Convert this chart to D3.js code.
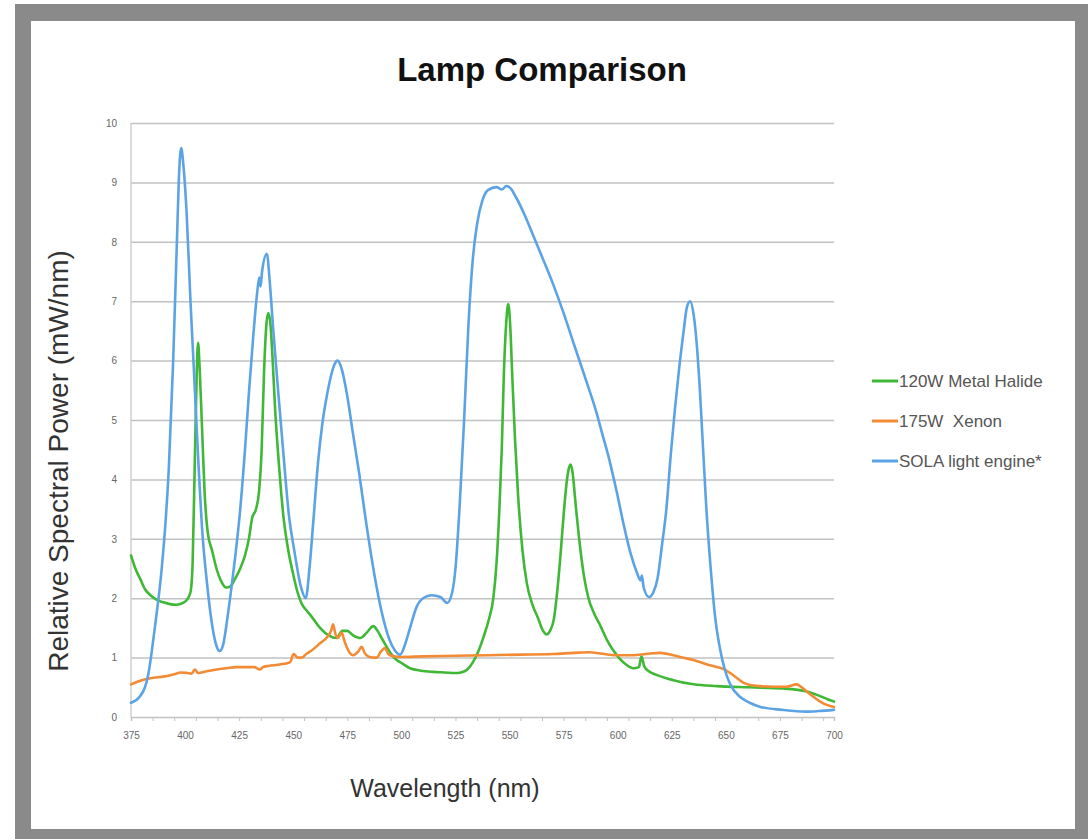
<!DOCTYPE html>
<html>
<head>
<meta charset="utf-8">
<script src="https://cdn.jsdelivr.net/npm/d3@7"></script>
<style>
  html, body { margin: 0; padding: 0; background: #ffffff; }
  svg { display: block; font-family: "Liberation Sans", Arial, Helvetica, sans-serif; }
</style>
</head>
<body>
<svg id="chart" width="1088" height="839"></svg>
<script>
// Wavelength (nm) and relative spectral power (mW/nm) for each lamp
const metalHalideWl  = [375,377,379.2,381.5,384,387,390,393,396,399,401,402.5,403.5,404.6,405.4,406,406.7,407.7,409,410.5,412.5,414.5,416.5,419,421,423,425.5,427.7,429.5,431,432.8,434.2,435.4,436.5,437.7,438.5,439.5,440.5,441.6,443.5,445.4,447.5,450,452,454,456,458.5,462.4,466.5,470,472.7,475,477.5,481,484,487,489,491,493.2,495.5,497.8,500.5,504,509,514.6,520,525,527.5,530.5,533,535.5,538,540.5,542.5,544,545.3,546.4,547.4,548.4,549.4,550.3,551.2,552.5,554,556,558,560.5,563,565.5,567.2,568.7,570.5,572,573.5,575,576.5,577.5,578.3,579.2,580.5,582.5,584.5,586.5,589,591.8,595,598,601,604,607.2,609.8,611,612.2,614,618,625.7,635,645.8,661,676.6,687.4,693,697,700];
const metalHalideVal = [2.72,2.5,2.33,2.15,2.05,1.97,1.93,1.9,1.89,1.92,1.98,2.1,2.6,4.5,5.8,6.3,5.9,5.0,3.8,3.1,2.8,2.5,2.3,2.18,2.2,2.32,2.5,2.72,3.0,3.35,3.5,3.8,4.5,5.8,6.65,6.8,6.6,6.0,5.2,4.2,3.4,2.85,2.4,2.1,1.9,1.8,1.69,1.5,1.37,1.33,1.45,1.45,1.38,1.33,1.42,1.53,1.45,1.32,1.18,1.05,0.96,0.9,0.82,0.78,0.76,0.75,0.74,0.75,0.8,0.92,1.1,1.35,1.65,2.0,2.6,3.5,4.5,5.8,6.6,6.95,6.6,5.8,4.7,3.7,2.8,2.25,1.9,1.68,1.45,1.39,1.45,1.65,2.1,2.7,3.4,3.98,4.2,4.25,4.1,3.6,2.9,2.35,2.0,1.75,1.55,1.3,1.12,0.98,0.88,0.82,0.84,1.02,0.86,0.78,0.71,0.62,0.55,0.52,0.5,0.48,0.43,0.36,0.3,0.26];

const xenonWl  = [375,380,385.3,390,395,398,401,403,404.5,406,410,414.6,419,423.9,428,432,434.6,436,438.5,443,448.5,450.2,452,453.9,456,458.5,462.4,466,467.5,468.4,469.5,470.7,472.4,473.5,474.7,477.6,480,481.6,483,484.6,487,488.6,490.5,492.4,494,495.5,499.4,510,525,540,555,570,580,587,592,599.5,607,613,619.6,625.7,630,635,642.7,648.8,652,655,658,661.2,666,672,678,682.8,685,687.4,690.5,693.6,697,700];
const xenonVal = [0.55,0.62,0.66,0.68,0.72,0.75,0.74,0.73,0.8,0.74,0.77,0.8,0.82,0.84,0.84,0.84,0.8,0.84,0.86,0.88,0.92,1.06,1.0,1.0,1.06,1.12,1.24,1.36,1.45,1.56,1.4,1.33,1.42,1.3,1.18,1.04,1.1,1.18,1.08,1.02,1.0,1.0,1.1,1.16,1.06,1.03,1.01,1.02,1.03,1.04,1.05,1.06,1.08,1.09,1.07,1.04,1.04,1.06,1.08,1.04,1.0,0.96,0.87,0.81,0.74,0.66,0.58,0.54,0.52,0.51,0.51,0.55,0.5,0.43,0.34,0.26,0.2,0.17];

const solaWl  = [375,379,383,386,389.2,391,392.5,394.5,396.3,397.3,398.2,399.2,400.7,402.5,404,406,408,410,412.5,414.5,416,417.5,419.5,421.5,423.5,425.5,427.7,429.6,431.5,433.5,434.3,434.9,435.6,437.8,439.2,440.8,443,445.3,448,450.5,453.5,455.8,457.5,459.3,461.5,463.5,465.5,467.5,469,470.5,472.5,475,477.5,480.5,484,487.5,491,494.5,497,499.4,501.5,504,507,510,514,518,521.2,523.5,525,527,529,531,533,535,537.5,540,544,546.5,548.5,550.5,553,557,561,565,570,575,580,586,590,593,596,599.5,603,606,609,610.5,611.2,612,614.5,616.5,618.5,620.5,622.5,624.5,626.5,628.5,630.5,632,633.5,635,636.5,638,639.5,641,643,645,647.3,649.5,652,656.5,661,666,676,687,693,700];
const solaVal = [0.24,0.34,0.72,1.5,2.5,3.3,4.2,6.0,8.1,9.2,9.58,9.3,8.5,7.0,5.9,4.4,3.1,2.3,1.55,1.2,1.11,1.2,1.65,2.2,2.8,3.5,4.5,5.5,6.4,7.2,7.4,7.25,7.5,7.8,7.3,6.5,5.5,4.5,3.4,2.8,2.2,2.0,2.5,3.3,4.3,4.95,5.4,5.75,5.93,6.0,5.85,5.4,4.8,4.1,3.2,2.4,1.75,1.3,1.12,1.05,1.2,1.5,1.85,2.0,2.05,2.02,1.92,2.1,2.5,3.6,5.0,6.6,7.7,8.3,8.7,8.87,8.92,8.88,8.94,8.9,8.75,8.45,8.1,7.75,7.3,6.8,6.25,5.6,5.15,4.75,4.35,3.8,3.2,2.75,2.42,2.3,2.38,2.18,2.02,2.1,2.35,2.9,3.5,4.4,5.2,5.9,6.5,6.9,7.0,6.8,6.3,5.5,4.5,3.5,2.5,1.7,1.15,0.8,0.55,0.34,0.24,0.17,0.12,0.09,0.1,0.12];

const seriesNames  = ["120W Metal Halide", "175W  Xenon", "SOLA light engine*"];
const seriesColors = ["#3fb836", "#f28b34", "#5ca3e6"];

const xTickValues = [375,400,425,450,475,500,525,550,575,600,625,650,675,700];
const yTickValues = [0,1,2,3,4,5,6,7,8,9,10];

const series = [
  { name: seriesNames[0], color: seriesColors[0], points: metalHalideWl.map((w, i) => [w, metalHalideVal[i]]) },
  { name: seriesNames[1], color: seriesColors[1], points: xenonWl.map((w, i) => [w, xenonVal[i]]) },
  { name: seriesNames[2], color: seriesColors[2], points: solaWl.map((w, i) => [w, solaVal[i]]) }
];

const svg = d3.select("#chart");

// slide frame
svg.append("rect").attr("x", 15).attr("y", 4).attr("width", 1073).attr("height", 835).attr("fill", "#8a8a8a");
svg.append("rect").attr("x", 31).attr("y", 21).attr("width", 1044).attr("height", 808).attr("fill", "#ffffff");

const plot = { left: 131, right: 834, top: 123, bottom: 717 };

const x = d3.scaleLinear().domain([375, 700]).range([plot.left, plot.right]);
const y = d3.scaleLinear().domain([0, 10]).range([plot.bottom, plot.top]);

// horizontal gridlines
svg.append("g")
  .attr("transform", `translate(${plot.left},0)`)
  .call(d3.axisLeft(y).tickValues(yTickValues.slice(1)).tickSize(-(plot.right - plot.left)).tickFormat(""))
  .call(g => g.select(".domain").remove())
  .call(g => g.selectAll("line").attr("stroke", "#c2c2c2").attr("stroke-width", 1.5));

// y axis line and labels
svg.append("line")
  .attr("x1", plot.left).attr("x2", plot.left)
  .attr("y1", plot.top).attr("y2", plot.bottom)
  .attr("stroke", "#cfcfcf").attr("stroke-width", 1.5);

svg.append("g")
  .attr("transform", `translate(${plot.left},0)`)
  .call(d3.axisLeft(y).tickValues(yTickValues).tickSize(0).tickPadding(14).tickFormat(d3.format("d")))
  .call(g => g.select(".domain").remove())
  .call(g => g.selectAll("text").attr("fill", "#666").attr("font-size", 10).attr("font-family", "Liberation Sans, Arial, sans-serif"));

// x axis with small ticks every 10 nm
svg.append("g")
  .attr("transform", `translate(0,${plot.bottom})`)
  .call(d3.axisBottom(x).tickValues(d3.range(375, 701, 10)).tickSize(4).tickFormat(""))
  .call(g => g.select(".domain").attr("stroke", "#c2c2c2").attr("stroke-width", 1.5))
  .call(g => g.selectAll("line").attr("stroke", "#c2c2c2").attr("stroke-width", 1));

svg.append("g")
  .attr("transform", `translate(0,${plot.bottom})`)
  .call(d3.axisBottom(x).tickValues(xTickValues).tickSize(0).tickPadding(15).tickFormat(d3.format("d")))
  .call(g => g.select(".domain").remove())
  .call(g => g.selectAll("text").attr("fill", "#666").attr("font-size", 10).attr("font-family", "Liberation Sans, Arial, sans-serif"));

// spectral curves
const line = d3.line()
  .x(d => x(d[0]))
  .y(d => y(d[1]))
  .curve(d3.curveMonotoneX);

svg.append("g").selectAll("path")
  .data(series)
  .join("path")
  .attr("d", d => line(d.points))
  .attr("fill", "none")
  .attr("stroke", d => d.color)
  .attr("stroke-width", 2.6)
  .attr("stroke-linejoin", "round")
  .attr("stroke-linecap", "round");

// title
svg.append("text")
  .attr("x", 542).attr("y", 81)
  .attr("text-anchor", "middle")
  .attr("font-size", 33).attr("font-weight", "bold").attr("fill", "#111")
  .text("Lamp Comparison");

// axis titles
svg.append("text")
  .attr("transform", "translate(68,461) rotate(-90)")
  .attr("text-anchor", "middle")
  .attr("font-size", 28).attr("fill", "#333")
  .text("Relative Spectral Power (mW/nm)");

svg.append("text")
  .attr("x", 445).attr("y", 797)
  .attr("text-anchor", "middle")
  .attr("font-size", 25).attr("fill", "#333")
  .text("Wavelength (nm)");

// legend
const legend = svg.append("g").attr("transform", "translate(872,381)");
const rows = legend.selectAll("g").data(series).join("g")
  .attr("transform", (d, i) => `translate(0,${i * 40})`);
rows.append("line")
  .attr("x1", 0).attr("x2", 26).attr("y1", 0).attr("y2", 0)
  .attr("stroke", d => d.color).attr("stroke-width", 3);
rows.append("text")
  .attr("x", 27).attr("y", 6)
  .attr("font-size", 17).attr("fill", "#555")
  .style("white-space", "pre")
  .text(d => d.name);
</script>
</body>
</html>
